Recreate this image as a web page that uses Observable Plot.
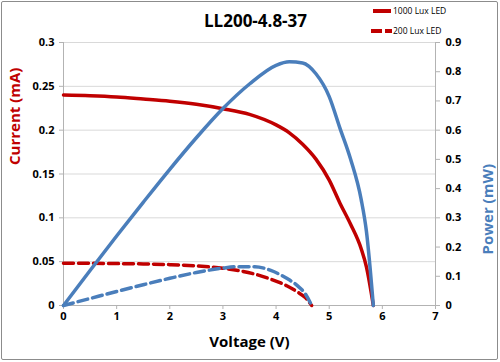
<!DOCTYPE html>
<html>
<head>
<meta charset="utf-8">
<script src="https://cdn.jsdelivr.net/npm/d3@7"></script>
<script src="https://cdn.jsdelivr.net/npm/@observablehq/plot@0.6"></script>
<style>
  html, body { margin: 0; padding: 0; background: #fff; }
  #wrap { position: relative; width: 500px; height: 362px; overflow: hidden; font-family: "Open Sans", sans-serif; }
  #frame { position: absolute; left: 1px; top: 1px; width: 495px; height: 357px; border: 1px solid #8c8c8c; border-radius: 2px; pointer-events: none; }
  .leg { position: absolute; font-size: 8.5px; color: #000; white-space: nowrap; line-height: 10px; }
  .legline { position: absolute; height: 0; }
</style>
</head>
<body>
<div id="wrap">
  <div id="chart"></div>
  <div class="legline" style="left:373px; top:9px; width:18px; border-top:4px solid #C00000;"></div>
  <div class="leg" style="left:393px; top:6px;">1000 Lux LED</div>
  <div class="legline" style="left:371px; top:29px; width:11px; border-top:4px solid #C00000;"></div>
  <div class="legline" style="left:385px; top:29px; width:7px; border-top:4px solid #C00000;"></div>
  <div class="leg" style="left:393px; top:26px;">200 Lux LED</div>
  <div id="frame"></div>
</div>
<script>
// 1000 Lux LED
const v1000 = [0, 0.5, 1, 1.5, 2, 2.5, 3, 3.5, 4, 4.25, 4.5, 4.75, 5, 5.2, 5.4, 5.6, 5.7, 5.83];
const i1000 = [0.240, 0.2392, 0.2378, 0.2355, 0.233, 0.2295, 0.2245, 0.218, 0.206, 0.197, 0.184, 0.167, 0.143, 0.117, 0.093, 0.065, 0.044, 0];
const p1000 = [0, 0.12, 0.238, 0.353, 0.466, 0.574, 0.674, 0.758, 0.822, 0.834, 0.83, 0.793, 0.715, 0.608, 0.502, 0.364, 0.254, 0];
// 200 Lux LED
const v200 = [0, 0.5, 1, 1.5, 2, 2.5, 3, 3.3, 3.6, 3.9, 4.2, 4.4, 4.55, 4.67];
const i200 = [0.0483, 0.0481, 0.0478, 0.0474, 0.0466, 0.0452, 0.0425, 0.0398, 0.0358, 0.030, 0.0225, 0.0155, 0.009, 0];
const p200 = [0, 0.024, 0.048, 0.071, 0.093, 0.113, 0.128, 0.133, 0.133, 0.12, 0.093, 0.068, 0.04, 0];
// ticks
const xTicks = [0, 1, 2, 3, 4, 5, 6, 7];
const currentTicks = [0, 0.05, 0.1, 0.15, 0.2, 0.25, 0.3];
const powerTicks = [0, 0.1, 0.2, 0.3, 0.4, 0.5, 0.6, 0.7, 0.8, 0.9];
const title = "LL200-4.8-37";

const RED = "#C00000", BLUE = "#4A7EBB", AXIS = "#b3b3b3", GRID = "#d9d9d9";
const ratio = 0.3 / 0.9;
const fmt = d => String(+d.toFixed(2));

const t1000 = v1000.map((v, k) => ({v, i: i1000[k], p: p1000[k]}));
const t200 = v200.map((v, k) => ({v, i: i200[k], p: p200[k]}));

const chart = Plot.plot({
  width: 500, height: 362,
  marginLeft: 63, marginRight: 65, marginTop: 42, marginBottom: 57,
  style: {fontFamily: "'Open Sans', sans-serif", fontSize: "11px", fontWeight: "bold", color: "#000", background: "transparent", overflow: "visible"},
  x: {domain: [0, 7], label: null},
  y: {domain: [0, 0.3], label: null},
  marks: [
    Plot.gridY(currentTicks, {stroke: GRID, strokeOpacity: 1, strokeWidth: 1}),
    Plot.ruleX([0, 7], {stroke: AXIS}),
    Plot.ruleY([0], {stroke: AXIS}),
    Plot.axisX(xTicks, {tickSize: 4, tickPadding: 3, stroke: AXIS, fill: "#000", tickFormat: d => String(d), label: null}),
    Plot.axisY(currentTicks, {anchor: "left", tickSize: 4, tickPadding: 5, stroke: AXIS, fill: "#000", tickFormat: fmt, label: null}),
    Plot.axisY(powerTicks, {anchor: "right", y: d => d * ratio, text: d => fmt(d), tickSize: 4, tickPadding: 6, stroke: AXIS, fill: "#000", label: null}),
    Plot.line(t1000, {x: "v", y: "i", stroke: RED, strokeWidth: 3.5, curve: "monotone-x"}),
    Plot.line(t200, {x: "v", y: "i", stroke: RED, strokeWidth: 3.5, strokeDasharray: "10,5", curve: "monotone-x"}),
    Plot.line(t1000, {x: "v", y: d => d.p * ratio, stroke: BLUE, strokeWidth: 3.5, curve: "monotone-x"}),
    Plot.line(t200, {x: "v", y: d => d.p * ratio, stroke: BLUE, strokeWidth: 3.5, strokeDasharray: "10,5", curve: "monotone-x"}),
    Plot.text([title], {frameAnchor: "top", dx: 6, dy: -28, text: d => d, fontSize: 17, fontWeight: "bold", fill: "#000"}),
    Plot.text(["Current (mA)"], {frameAnchor: "left", dx: -48, dy: -9, rotate: -90, text: d => d, fontSize: 15, fontWeight: "bold", fill: RED}),
    Plot.text(["Power (mW)"], {frameAnchor: "right", dx: 53, dy: -10, rotate: -90, text: d => d, fontSize: 15, fontWeight: "bold", fill: BLUE}),
    Plot.text(["Voltage (V)"], {frameAnchor: "bottom", dy: 41, text: d => d, fontSize: 15, fontWeight: "bold", fill: "#000"})
  ]
});
document.getElementById("chart").appendChild(chart);
</script>
</body>
</html>
